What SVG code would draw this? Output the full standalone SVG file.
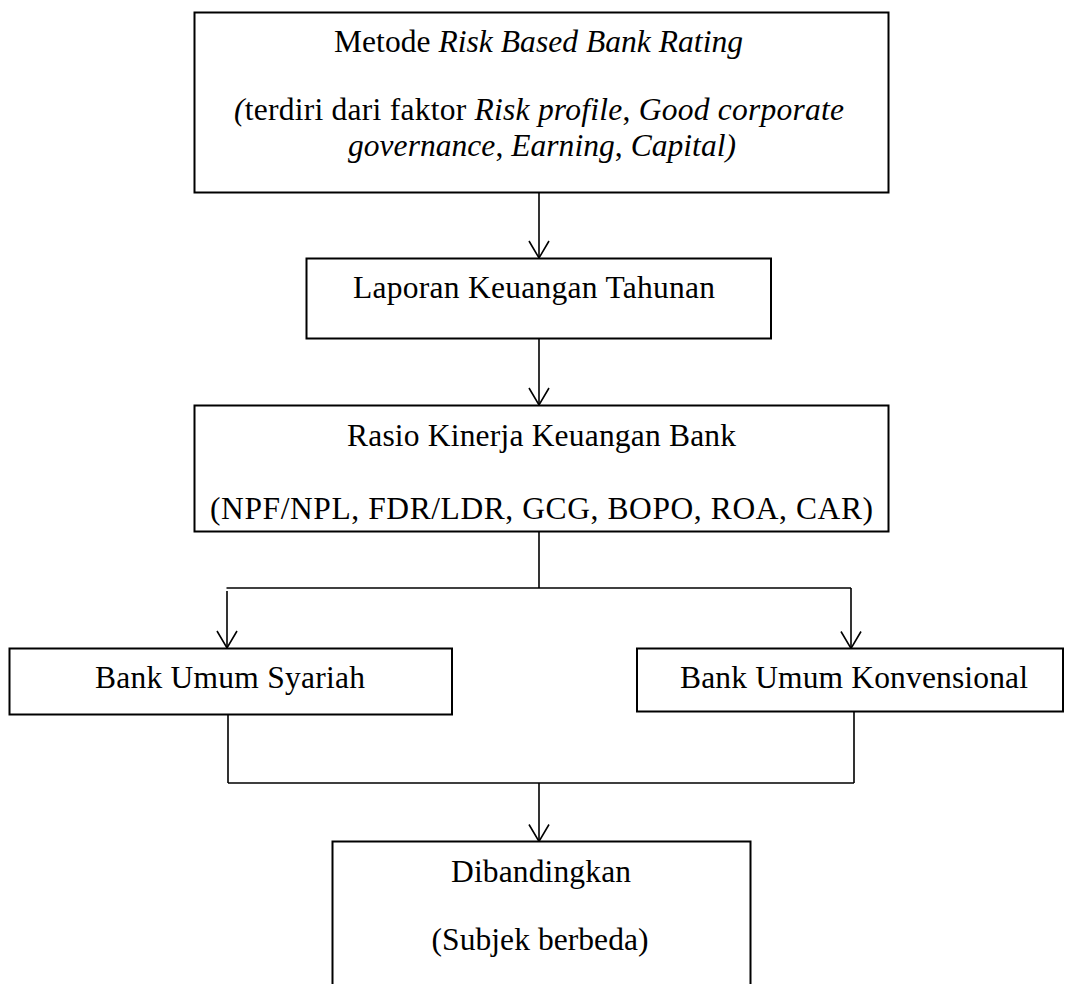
<svg xmlns="http://www.w3.org/2000/svg" width="1065" height="984" viewBox="0 0 1065 984">
<style>
.box{fill:#fff;stroke:#000;stroke-width:2}
.t{font-family:"Liberation Serif","Times New Roman",serif;font-size:31.5px;fill:#000;text-anchor:middle}
.i{font-style:italic}
.c{fill:none;stroke:#000;stroke-width:1.6}
.a{fill:none;stroke:#000;stroke-width:1.6;marker-end:url(#arr)}
</style>
<defs>
<marker id="arr" markerUnits="userSpaceOnUse" markerWidth="24" markerHeight="24" viewBox="0 0 24 24" refX="19" refY="12" orient="auto">
<path d="M2,2 L19,12 L2,22" fill="none" stroke="#000" stroke-width="1.6"/>
</marker>
</defs>
<rect width="1065" height="984" fill="#fff"/>
<g id="connectors">
<path class="a" d="M539,192.5 V258"/>
<path class="a" d="M539,338 V405"/>
<path class="c" d="M539,531.5 V588"/>
<path class="c" d="M226.5,588 H851"/>
<path class="a" d="M227,591 V648"/>
<path class="a" d="M851,588 V648.5"/>
<path class="c" d="M228,715 V783 M854,712 V783 M228,783 H854"/>
<path class="a" d="M539,783 V841.5"/>
</g>
<g id="node-rbbr">
<rect class="box" x="194.5" y="12.5" width="694" height="180"/>
<text class="t" x="538.5" y="52" textLength="409" lengthAdjust="spacing">Metode <tspan class="i">Risk Based Bank Rating</tspan></text>
<text class="t" x="539" y="120" textLength="610" lengthAdjust="spacing"><tspan class="i">(</tspan>terdiri dari faktor <tspan class="i">Risk profile</tspan>, <tspan class="i">Good corporate</tspan></text>
<text class="t" x="542" y="156" textLength="388" lengthAdjust="spacing"><tspan class="i">governance</tspan>, <tspan class="i">Earning</tspan>, <tspan class="i">Capital)</tspan></text>
</g>
<g id="node-laporan">
<rect class="box" x="306.5" y="258.5" width="464.5" height="80"/>
<text class="t" x="534" y="298" textLength="362" lengthAdjust="spacing">Laporan Keuangan Tahunan</text>
</g>
<g id="node-rasio">
<rect class="box" x="194.5" y="405.5" width="694" height="126"/>
<text class="t" x="541.5" y="446" textLength="389" lengthAdjust="spacing">Rasio Kinerja Keuangan Bank</text>
<text class="t" x="541.5" y="519" textLength="663" lengthAdjust="spacing">(NPF/NPL, FDR/LDR, GCG, BOPO, ROA, CAR)</text>
</g>
<g id="node-bus">
<rect class="box" x="9.5" y="648.5" width="442.5" height="66"/>
<text class="t" x="230" y="688" textLength="270" lengthAdjust="spacing">Bank Umum Syariah</text>
</g>
<g id="node-buk">
<rect class="box" x="637" y="648.5" width="426" height="63"/>
<text class="t" x="854" y="688" textLength="348" lengthAdjust="spacing">Bank Umum Konvensional</text>
</g>
<g id="node-dibandingkan">
<rect class="box" x="332.5" y="841.5" width="418" height="200"/>
<text class="t" x="541" y="882" textLength="180" lengthAdjust="spacing">Dibandingkan</text>
<text class="t" x="540" y="950" textLength="217" lengthAdjust="spacing">(Subjek berbeda)</text>
</g>
</svg>
